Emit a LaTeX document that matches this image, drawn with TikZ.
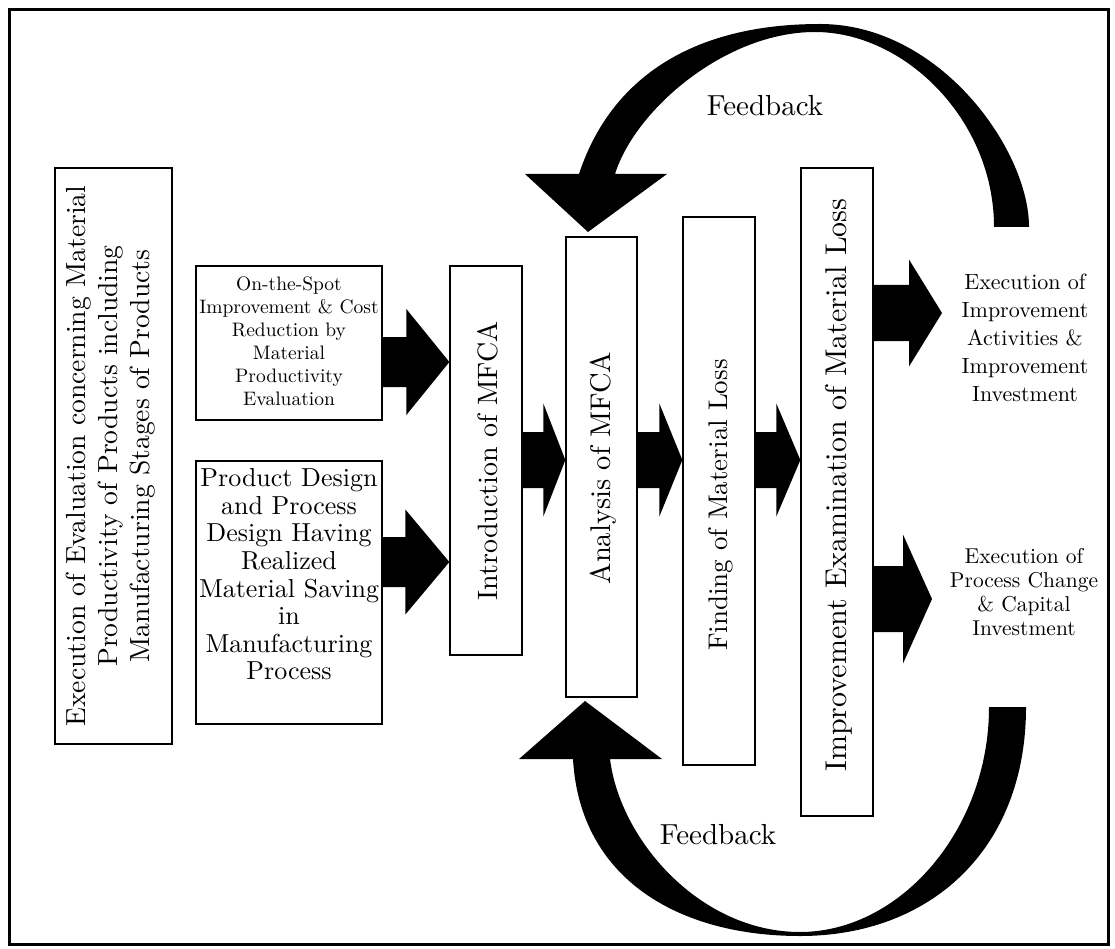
\documentclass[tikz,border=0pt]{standalone}
\usepackage{fontspec}
\setmainfont{lmroman10}[Extension=.otf, UprightFont=*-regular, BoldFont=*-bold, ItalicFont=*-italic]
\usetikzlibrary{calc}
\newcommand\blockarrow[5]{%
  \fill let \p1=(#1), \p2=(#2) in
    (\x1,\y1+#3) -- (\x2-#5,\y1+#3) -- (\x2-#5,\y1+#4) -- (\x2,\y1)
    -- (\x2-#5,\y1-#4) -- (\x2-#5,\y1-#3) -- (\x1,\y1-#3) -- cycle;}
\begin{document}
\begin{tikzpicture}[x=1pt,y=-1pt,
  box/.style={draw, line width=1.3pt, inner sep=0pt},
  vtext/.style={rotate=90, inner sep=0pt, align=center},
  lbl/.style={inner sep=0pt, align=center}]
\useasboundingbox (0,0) rectangle (1115,949);
\draw[line width=3pt] (9.5,10) rectangle (1108,944);

% boxes
\node[box, minimum width=117pt, minimum height=576pt] (left) at (113.5,456) {};
\node[box, minimum width=186pt, minimum height=154pt] (spot) at (289,343) {};
\node[box, minimum width=186pt, minimum height=263pt] (design) at (289,592.5) {};
\node[box, minimum width=72pt, minimum height=389pt] (intro) at (486,460.5) {};
\node[box, minimum width=71pt, minimum height=460pt] (analysis) at (601.5,467) {};
\node[box, minimum width=72pt, minimum height=548pt] (finding) at (719,491) {};
\node[box, minimum width=72pt, minimum height=648pt] (improve) at (837,492) {};

% texts
\node[vtext, font=\fontsize{27.6}{32}\selectfont] (tleft) at (111,456)
  {Execution of Evaluation concerning Material\\Productivity of Products including\\Manufacturing Stages of Products};
\node[lbl, font=\fontsize{19.5}{23}\selectfont] (tspot) at (289,341)
  {On-the-Spot\\Improvement \& Cost\\Reduction by\\Material\\Productivity\\Evaluation};
\node[lbl, font=\fontsize{26}{27.6}\selectfont] (tdesign) at (289,574.5)
  {Product Design\\and Process\\Design Having\\Realized\\Material Saving\\in\\Manufacturing\\Process};
\node[vtext, font=\fontsize{28}{32}\selectfont] (tintro) at (488,461) {Introduction of MFCA};
\node[vtext, font=\fontsize{28.5}{32}\selectfont] (tanalysis) at (603,468) {Analysis of MFCA};
\node[vtext, font=\fontsize{27}{32}\selectfont] (tfinding) at (721,505) {Finding of Material Loss};
\node[vtext, font=\fontsize{30}{32}\selectfont] (timprove) at (839,485) {Improvement Examination of Material Loss};
\node[lbl, font=\fontsize{22}{28}\selectfont] (exec1) at (1025,338)
  {Execution of\\Improvement\\Activities \&\\Improvement\\Investment};
\node[lbl, font=\fontsize{21.5}{24}\selectfont] (exec2) at (1024,592)
  {Execution of\\Process Change\\\& Capital\\Investment};
\node[lbl, font=\fontsize{29}{32}\selectfont] (fb1) at (765,106) {Feedback};
\node[lbl, font=\fontsize{29}{32}\selectfont] (fb2) at (718,835) {Feedback};

% rows for block arrows
\coordinate (r1) at (0,362);
\coordinate (r2) at (0,562);
\coordinate (r3) at (0,460);
\coordinate (t6) at (942,313);
\coordinate (t7) at (932,599);

\blockarrow{spot.east |- r1}{intro.west |- r1}{25pt}{53pt}{43pt}
\blockarrow{design.east |- r2}{intro.west |- r2}{25pt}{52.5pt}{44pt}
\blockarrow{intro.east |- r3}{analysis.west |- r3}{28pt}{56.5pt}{22pt}
\blockarrow{analysis.east |- r3}{finding.west |- r3}{28pt}{56.5pt}{23pt}
\blockarrow{finding.east |- r3}{improve.west |- r3}{28pt}{56.5pt}{24pt}
\blockarrow{improve.east |- t6}{t6}{28pt}{53.5pt}{33pt}
\blockarrow{improve.east |- t7}{t7}{33pt}{64.5pt}{29pt}

% feedback arrows
\fill (1029,227) .. controls (1029,150) and (940,24) .. (820,24)
  .. controls (690,24) and (610,80) .. (579,174)
  -- (525,174) -- (588,232) -- (667,174) -- (615,174)
  .. controls (635,110) and (725,32) .. (815,32)
  .. controls (905,32) and (994,120) .. (994,227) -- cycle;
\fill (1026,707) .. controls (1026,850) and (930,936) .. (800,936)
  .. controls (680,936) and (580,880) .. (573,759)
  -- (519,759) -- (585,701) -- (662,759) -- (610,759)
  .. controls (620,840) and (700,932) .. (800,932)
  .. controls (900,932) and (989,830) .. (989,707) -- cycle;
\end{tikzpicture}
\end{document}
